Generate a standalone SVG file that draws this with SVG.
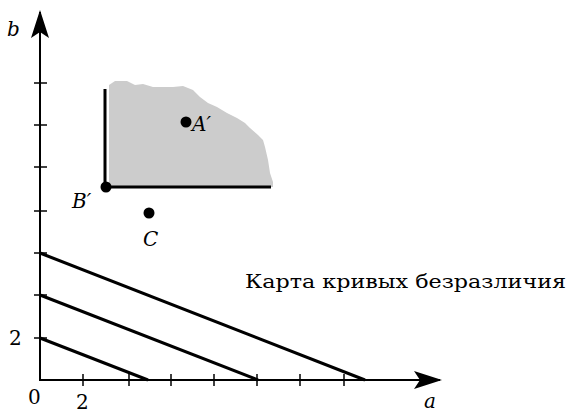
<svg xmlns="http://www.w3.org/2000/svg" width="570" height="414" viewBox="0 0 570 414">
<style>
.ax{stroke:#000;stroke-width:2;fill:none}
.tk{stroke:#000;stroke-width:1.5}
.cv{stroke:#000;stroke-width:3;fill:none;stroke-linecap:butt}
.lb{font-family:"DejaVu Serif","Liberation Serif",serif;font-size:18px;fill:#000}
.dg{font-family:"DejaVu Serif","Liberation Serif",serif;font-size:20px;fill:#000}
.it{font-family:"DejaVu Serif","Liberation Serif",serif;font-style:italic;font-size:20px;fill:#000}
</style>
<defs>
<marker id="ar" viewBox="0 0 28 18" refX="26" refY="9" markerWidth="28" markerHeight="18" markerUnits="userSpaceOnUse" orient="auto">
<path d="M0,0 L28,9 L0,18 L6,9 Z" fill="#000"/>
</marker>
</defs>
<g id="axes">
<line class="ax" x1="40" y1="381" x2="40" y2="12" marker-end="url(#ar)"/>
<line class="ax" x1="39" y1="380" x2="440" y2="380" marker-end="url(#ar)"/>
<g class="tk">
<line x1="34" y1="83" x2="47" y2="83"/>
<line x1="34" y1="125" x2="47" y2="125"/>
<line x1="34" y1="167" x2="47" y2="167"/>
<line x1="34" y1="211" x2="47" y2="211"/>
<line x1="34" y1="253" x2="47" y2="253"/>
<line x1="34" y1="295" x2="47" y2="295"/>
<line x1="34" y1="338" x2="47" y2="338"/>
<line x1="83" y1="374" x2="83" y2="386"/>
<line x1="129" y1="374" x2="129" y2="386"/>
<line x1="171" y1="374" x2="171" y2="386"/>
<line x1="214" y1="374" x2="214" y2="386"/>
<line x1="257" y1="374" x2="257" y2="386"/>
<line x1="300" y1="374" x2="300" y2="386"/>
<line x1="344" y1="374" x2="344" y2="386"/>
</g>
<text class="it" x="7" y="36">b</text>
<text class="it" x="424" y="408">a</text>
<text class="dg" x="9" y="345">2</text>
<text class="dg" x="28" y="404">0</text>
<text class="dg" x="76" y="409">2</text>
</g>
<g id="region">
<path d="M109,187 L109,85 L115,81 L127,81 L135,85 L143,84 L153,87 L163,87 L173,87 L183,86 L193,90 L200,97 L208,103 L217,107 L227,113 L237,118 L245,123 L250,128 L258,135 L263,140 L265,147 L268,160 L270,173 L273,182 L273,187 Z" fill="#cccccc"/>
<polyline class="cv" points="105,89 105,187 271,187"/>
</g>
<g id="pointA">
<circle cx="186" cy="122" r="5.5" fill="#000"/>
<text class="it" x="192" y="131">A′</text>
</g>
<g id="pointB">
<circle cx="106" cy="187" r="5.5" fill="#000"/>
<text class="it" x="72" y="208">B′</text>
</g>
<g id="pointC">
<circle cx="149" cy="213" r="5.5" fill="#000"/>
<text class="it" x="143" y="246">C</text>
</g>
<g id="curves">
<line class="cv" x1="40" y1="338" x2="148" y2="380"/>
<line class="cv" x1="40" y1="295" x2="258" y2="380"/>
<line class="cv" x1="40" y1="253" x2="365" y2="380"/>
</g>
<text class="lb" x="245" y="288" textLength="321" lengthAdjust="spacingAndGlyphs">Карта кривых безразличия</text>
</svg>
